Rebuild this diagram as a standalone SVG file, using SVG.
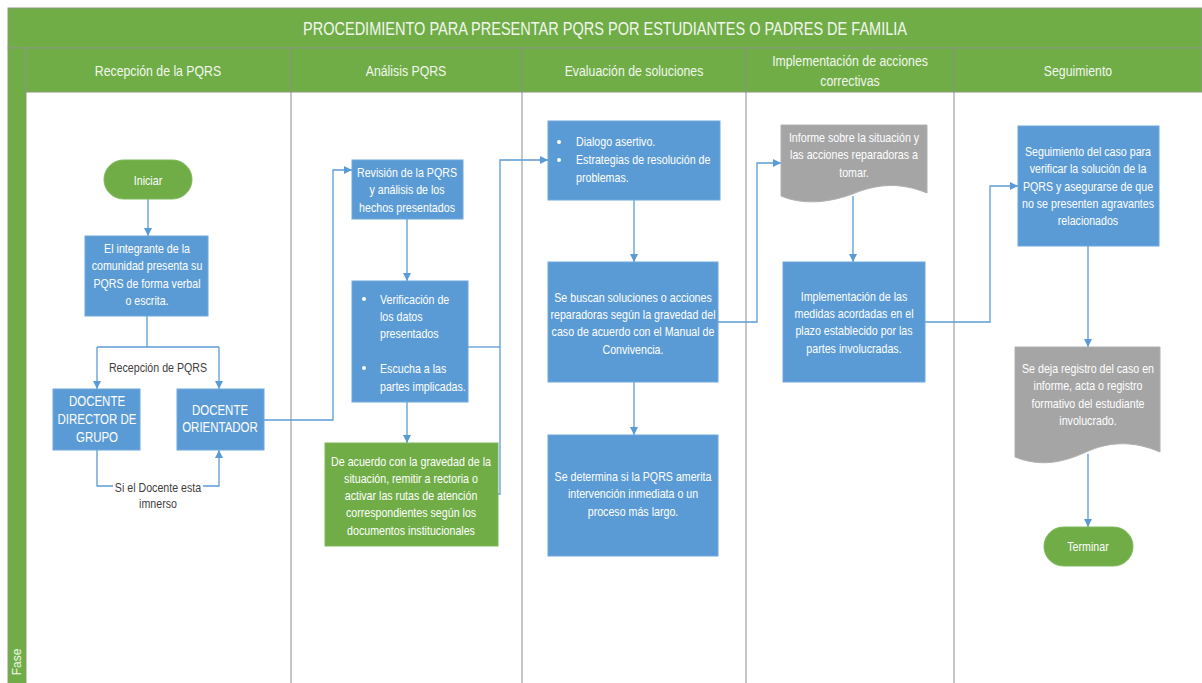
<svg xmlns="http://www.w3.org/2000/svg" width="1202" height="683" viewBox="0 0 1202 683">
<defs>
<style>
.hdr{fill:#70AD47;stroke:#8A9A7E;stroke-width:1}
.lane{stroke:#8C8C8C;stroke-width:1;fill:none}
.ht{font-family:"Liberation Sans",Arial,sans-serif;font-size:15px;fill:#F2F7EE;text-anchor:middle}
.bt{font-family:"Liberation Sans",Arial,sans-serif;font-size:13px;fill:#FFFFFF;text-anchor:middle}
.bl{font-family:"Liberation Sans",Arial,sans-serif;font-size:13px;fill:#FFFFFF;text-anchor:start}
.lt{font-family:"Liberation Sans",Arial,sans-serif;font-size:13px;fill:#404040;text-anchor:middle}
.blue{fill:#5B9BD5;stroke:#6FA8DC;stroke-width:1}
.green{fill:#70AD47;stroke:#7DB85A;stroke-width:1}
.gray{fill:#A5A5A5;stroke:#B0B0B0;stroke-width:1}
.c{fill:none;stroke:#5B9BD5;stroke-width:1.3}
</style>
<marker id="ah" markerUnits="userSpaceOnUse" markerWidth="9" markerHeight="9" refX="8" refY="4" orient="auto">
<path d="M0,0 L8,4 L0,8 z" fill="#5B9BD5"/>
</marker>
</defs>
<rect x="0" y="0" width="1202" height="683" fill="#FFFFFF"/>
<g id="frame">
<rect class="hdr" x="8" y="8" width="1194" height="40"/>
<rect class="hdr" x="8" y="48" width="18" height="640"/>
<rect class="hdr" x="26" y="48" width="1176" height="44"/>
<line class="lane" x1="291" y1="48" x2="291" y2="683"/>
<line class="lane" x1="522" y1="48" x2="522" y2="683"/>
<line class="lane" x1="746" y1="48" x2="746" y2="683"/>
<line class="lane" x1="954" y1="48" x2="954" y2="683"/>
<text class="ht" x="605" y="35" font-size="18" textLength="604" lengthAdjust="spacingAndGlyphs" style="font-size:18px">PROCEDIMIENTO PARA PRESENTAR PQRS POR ESTUDIANTES O PADRES DE FAMILIA</text>
<g transform="translate(158,0) scale(0.82,1)"><text class="ht" x="0" y="76">Recepción de la PQRS</text></g>
<g transform="translate(406,0) scale(0.82,1)"><text class="ht" x="0" y="76">Análisis PQRS</text></g>
<g transform="translate(634,0) scale(0.82,1)"><text class="ht" x="0" y="76">Evaluación de soluciones</text></g>
<g transform="translate(850,0) scale(0.82,1)"><text class="ht" x="0" y="66">Implementación de acciones</text><text class="ht" x="0" y="86">correctivas</text></g>
<g transform="translate(1078,0) scale(0.82,1)"><text class="ht" x="0" y="76">Seguimiento</text></g>
<text class="ht" transform="translate(21,662) rotate(-90)" style="font-size:12px" x="0" y="0">Fase</text>
</g>
<g id="connectors">
<path class="c" d="M148,199 V236" marker-end="url(#ah)"/>
<path class="c" d="M147,316 V347"/>
<path class="c" d="M97,347 H219"/>
<path class="c" d="M97,347 V389" marker-end="url(#ah)"/>
<path class="c" d="M219,347 V389" marker-end="url(#ah)"/>
<path class="c" d="M97,450 V486 H219 V450" marker-end="url(#ah)"/>
<path class="c" d="M264,420 H333 V170 H352" marker-end="url(#ah)"/>
<path class="c" d="M407,219 V281" marker-end="url(#ah)"/>
<path class="c" d="M407,402 V443" marker-end="url(#ah)"/>
<path class="c" d="M468,347 H500"/>
<path class="c" d="M498,494 H500 V160 H548" marker-end="url(#ah)"/>
<path class="c" d="M634,200 V262" marker-end="url(#ah)"/>
<path class="c" d="M634,382 V435" marker-end="url(#ah)"/>
<path class="c" d="M718,322 H757 V163 H781" marker-end="url(#ah)"/>
<path class="c" d="M853,196 V262" marker-end="url(#ah)"/>
<path class="c" d="M925,322 H990 V186 H1018" marker-end="url(#ah)"/>
<path class="c" d="M1088,246 V347" marker-end="url(#ah)"/>
<path class="c" d="M1088,454 V527" marker-end="url(#ah)"/>
<g transform="translate(158,0) scale(0.82,1)"><text class="lt" x="0" y="372">Recepción de PQRS</text></g>
<rect x="113" y="479" width="90" height="14" fill="#FFFFFF"/>
<g transform="translate(158,0) scale(0.82,1)"><text class="lt" x="0" y="492">Si el Docente esta</text><text class="lt" x="0" y="508">imnerso</text></g>
</g>
<g id="n-iniciar">
<rect class="green" x="104" y="160" width="88" height="39" rx="19.5"/>
<g transform="translate(148,0) scale(0.82,1)"><text class="bt" x="0" y="185">Iniciar</text></g>
</g>
<g id="n-integrante">
<rect class="blue" x="85" y="236" width="123" height="80"/>
<g transform="translate(147,0) scale(0.82,1)"><text class="bt" x="0" y="253">El integrante de la</text><text class="bt" x="0" y="270">comunidad presenta su</text><text class="bt" x="0" y="288">PQRS de forma verbal</text><text class="bt" x="0" y="305">o escrita.</text></g>
</g>
<g id="n-director">
<rect class="blue" x="53" y="389" width="87" height="61"/>
<g transform="translate(97,0) scale(0.82,1)"><text class="bt" x="0" y="406" style="font-size:14px">DOCENTE</text><text class="bt" x="0" y="424" style="font-size:14px">DIRECTOR DE</text><text class="bt" x="0" y="442" style="font-size:14px">GRUPO</text></g>
</g>
<g id="n-orientador">
<rect class="blue" x="177" y="389" width="87" height="61"/>
<g transform="translate(220,0) scale(0.82,1)"><text class="bt" x="0" y="415" style="font-size:14px">DOCENTE</text><text class="bt" x="0" y="432" style="font-size:14px">ORIENTADOR</text></g>
</g>
<g id="n-revision">
<rect class="blue" x="352" y="160" width="111" height="59"/>
<g transform="translate(407,0) scale(0.82,1)"><text class="bt" x="0" y="177">Revisión de la PQRS</text><text class="bt" x="0" y="194">y análisis de los</text><text class="bt" x="0" y="212">hechos presentados</text></g>
</g>
<g id="n-verificacion">
<rect class="blue" x="352" y="281" width="116" height="121"/>
<circle cx="364" cy="299" r="2" fill="#FFFFFF"/>
<circle cx="364" cy="368" r="2" fill="#FFFFFF"/>
<g transform="translate(380,0) scale(0.82,1)"><text class="bl" x="0" y="304">Verificación de</text><text class="bl" x="0" y="321">los datos</text><text class="bl" x="0" y="338">presentados</text><text class="bl" x="0" y="373">Escucha a las</text><text class="bl" x="0" y="391">partes implicadas.</text></g>
</g>
<g id="n-remitir">
<rect class="green" x="325" y="443" width="173" height="103"/>
<g transform="translate(411,0) scale(0.82,1)"><text class="bt" x="0" y="466">De acuerdo con la gravedad de la</text><text class="bt" x="0" y="483">situación, remitir a rectoria o</text><text class="bt" x="0" y="500">activar las rutas de atención</text><text class="bt" x="0" y="517">correspondientes según los</text><text class="bt" x="0" y="535">documentos institucionales</text></g>
</g>
<g id="n-dialogo">
<rect class="blue" x="548" y="121" width="172" height="79"/>
<circle cx="559" cy="142" r="2" fill="#FFFFFF"/>
<circle cx="559" cy="160" r="2" fill="#FFFFFF"/>
<g transform="translate(576,0) scale(0.82,1)"><text class="bl" x="0" y="146">Dialogo asertivo.</text><text class="bl" x="0" y="164">Estrategias de resolución de</text><text class="bl" x="0" y="182">problemas.</text></g>
</g>
<g id="n-buscan">
<rect class="blue" x="548" y="262" width="170" height="120"/>
<g transform="translate(633,0) scale(0.82,1)"><text class="bt" x="0" y="302">Se buscan soluciones o acciones</text><text class="bt" x="0" y="319">reparadoras según la gravedad del</text><text class="bt" x="0" y="336">caso de acuerdo con el Manual de</text><text class="bt" x="0" y="354">Convivencia.</text></g>
</g>
<g id="n-determina">
<rect class="blue" x="548" y="435" width="170" height="121"/>
<g transform="translate(633,0) scale(0.82,1)"><text class="bt" x="0" y="481">Se determina si la PQRS amerita</text><text class="bt" x="0" y="498">intervención inmediata o un</text><text class="bt" x="0" y="516">proceso más largo.</text></g>
</g>
<g id="n-informe">
<path class="gray" d="M781,125 H927 V193 C900,182 878,184 855,193 C832,202 805,206 781,196 Z"/>
<g transform="translate(854,0) scale(0.82,1)"><text class="bt" x="0" y="142">Informe sobre la situación y</text><text class="bt" x="0" y="159">las acciones reparadoras a</text><text class="bt" x="0" y="177">tomar.</text></g>
</g>
<g id="n-implementacion">
<rect class="blue" x="783" y="262" width="142" height="120"/>
<g transform="translate(854,0) scale(0.82,1)"><text class="bt" x="0" y="301">Implementación de las</text><text class="bt" x="0" y="318">medidas acordadas en el</text><text class="bt" x="0" y="335">plazo establecido por las</text><text class="bt" x="0" y="353">partes involucradas.</text></g>
</g>
<g id="n-seguimiento">
<rect class="blue" x="1018" y="126" width="141" height="120"/>
<g transform="translate(1088,0) scale(0.82,1)"><text class="bt" x="0" y="156">Seguimiento del caso para</text><text class="bt" x="0" y="173">verificar la solución de la</text><text class="bt" x="0" y="191">PQRS y asegurarse de que</text><text class="bt" x="0" y="208">no se presenten agravantes</text><text class="bt" x="0" y="225">relacionados</text></g>
</g>
<g id="n-registro">
<path class="gray" d="M1015,347 H1160 V452 C1132,440 1108,442 1086,452 C1062,463 1040,467 1015,457 Z"/>
<g transform="translate(1088,0) scale(0.82,1)"><text class="bt" x="0" y="373">Se deja registro del caso en</text><text class="bt" x="0" y="390">informe, acta o registro</text><text class="bt" x="0" y="408">formativo del estudiante</text><text class="bt" x="0" y="425">involucrado.</text></g>
</g>
<g id="n-terminar">
<rect class="green" x="1044" y="527" width="89" height="39" rx="19.5"/>
<g transform="translate(1088,0) scale(0.82,1)"><text class="bt" x="0" y="551">Terminar</text></g>
</g>
</svg>
